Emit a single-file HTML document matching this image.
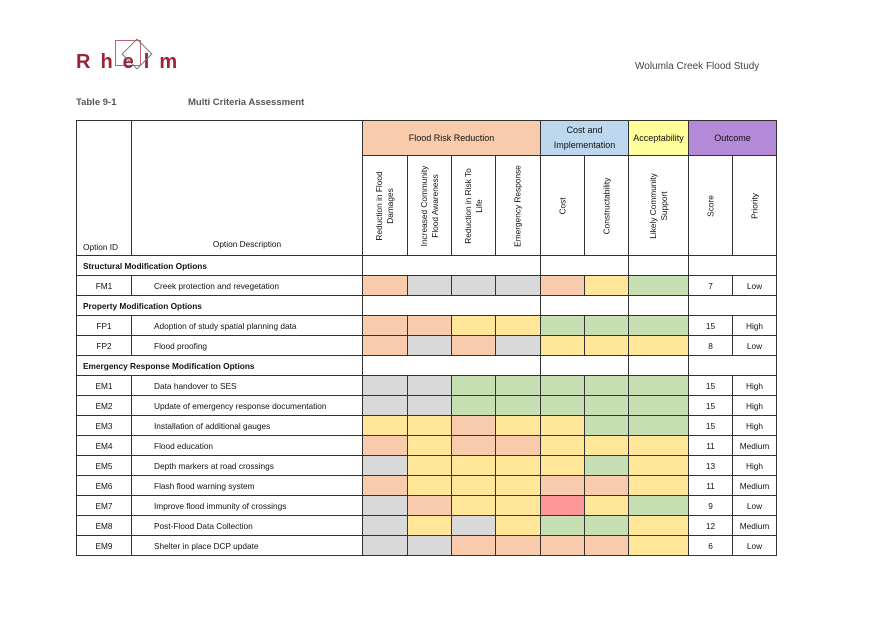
<!DOCTYPE html>
<html><head><meta charset="utf-8"><style>
body{margin:0;width:876px;height:620px;background:#fff;font-family:"Liberation Sans",sans-serif;color:#111;position:relative;overflow:hidden}
.abs{position:absolute}
table{position:absolute;left:76px;top:120px;border-collapse:collapse;table-layout:fixed;font-size:8.3px}
td{border:1px solid #333;padding:0;height:19px;text-align:center;white-space:nowrap;overflow:hidden}
.l{text-align:left;padding-left:22px}
.g{font-weight:bold;text-align:left;padding-left:6px}
.P{background:#f8cbad}.G{background:#d9d9d9}.Y{background:#ffe699}.N{background:#c6e0b4}.R{background:#ff9999}
.rot{height:99px;position:relative}
.rot div{position:absolute;left:50%;top:50%;transform:translate(-50%,-50%) rotate(-90deg);text-align:center;line-height:11px;width:86px;white-space:normal}
</style></head><body>
<div class="abs" style="left:76px;top:51px;font-size:20px;font-weight:bold;color:#9b2335;letter-spacing:10px">Rhelm</div>
<div class="abs" style="left:115px;top:40px;width:24px;height:24px;border:1px solid #9b2335;opacity:.7"></div>
<div class="abs" style="left:126px;top:43px;width:20px;height:20px;border:1px solid #777;transform:rotate(45deg)"></div>
<div class="abs" style="left:635px;top:61px;font-size:10px;color:#444">Wolumla Creek Flood Study</div>
<div class="abs" style="left:76px;top:97px;font-size:9.5px;font-weight:bold;color:#555">Table 9-1</div>
<div class="abs" style="left:188px;top:97px;font-size:9.5px;font-weight:bold;color:#555">Multi Criteria Assessment</div>
<table>
<colgroup><col style="width:55px"><col style="width:231px"><col style="width:45px"><col style="width:44px"><col style="width:44px"><col style="width:45px"><col style="width:44px"><col style="width:44px"><col style="width:60px"><col style="width:44px"><col style="width:44px"></colgroup>
<tr style="height:35px"><td rowspan="2" style="vertical-align:bottom;text-align:left;padding:0 0 3px 6px">Option ID</td><td rowspan="2" style="vertical-align:bottom;padding-bottom:6px">Option Description</td>
<td colspan="4" class="P" style="font-size:9px">Flood Risk Reduction</td><td colspan="2" style="background:#bdd7ee;font-size:9px;white-space:normal;line-height:15px">Cost and<br>Implementation</td><td style="background:#ffff99;font-size:9px">Acceptability</td><td colspan="2" style="background:#b48ad8;font-size:9px">Outcome</td></tr>
<tr><td class="rot"><div>Reduction in Flood Damages</div></td><td class="rot"><div>Increased Community Flood Awareness</div></td><td class="rot"><div>Reduction in Risk To<br>Life</div></td><td class="rot"><div>Emergency Response</div></td><td class="rot"><div>Cost</div></td><td class="rot"><div>Constructability</div></td><td class="rot"><div>Likely Community<br>Support</div></td><td class="rot"><div>Score</div></td><td class="rot"><div>Priority</div></td></tr>
<tr><td colspan="2" class="g">Structural Modification Options</td><td colspan="4"></td><td colspan="2"></td><td></td><td colspan="2"></td></tr>
<tr><td>FM1</td><td class="l">Creek protection and revegetation</td><td class="P"></td><td class="G"></td><td class="G"></td><td class="G"></td><td class="P"></td><td class="Y"></td><td class="N"></td><td>7</td><td>Low</td></tr>
<tr><td colspan="2" class="g">Property Modification Options</td><td colspan="4"></td><td colspan="2"></td><td></td><td colspan="2"></td></tr>
<tr><td>FP1</td><td class="l">Adoption of study spatial planning data</td><td class="P"></td><td class="P"></td><td class="Y"></td><td class="Y"></td><td class="N"></td><td class="N"></td><td class="N"></td><td>15</td><td>High</td></tr>
<tr><td>FP2</td><td class="l">Flood proofing</td><td class="P"></td><td class="G"></td><td class="P"></td><td class="G"></td><td class="Y"></td><td class="Y"></td><td class="Y"></td><td>8</td><td>Low</td></tr>
<tr><td colspan="2" class="g">Emergency Response Modification Options</td><td colspan="4"></td><td colspan="2"></td><td></td><td colspan="2"></td></tr>
<tr><td>EM1</td><td class="l">Data handover to SES</td><td class="G"></td><td class="G"></td><td class="N"></td><td class="N"></td><td class="N"></td><td class="N"></td><td class="N"></td><td>15</td><td>High</td></tr>
<tr><td>EM2</td><td class="l">Update of emergency response documentation</td><td class="G"></td><td class="G"></td><td class="N"></td><td class="N"></td><td class="N"></td><td class="N"></td><td class="N"></td><td>15</td><td>High</td></tr>
<tr><td>EM3</td><td class="l">Installation of additional gauges</td><td class="Y"></td><td class="Y"></td><td class="P"></td><td class="Y"></td><td class="Y"></td><td class="N"></td><td class="N"></td><td>15</td><td>High</td></tr>
<tr><td>EM4</td><td class="l">Flood education</td><td class="P"></td><td class="Y"></td><td class="P"></td><td class="P"></td><td class="Y"></td><td class="Y"></td><td class="Y"></td><td>11</td><td>Medium</td></tr>
<tr><td>EM5</td><td class="l">Depth markers at road crossings</td><td class="G"></td><td class="Y"></td><td class="Y"></td><td class="Y"></td><td class="Y"></td><td class="N"></td><td class="Y"></td><td>13</td><td>High</td></tr>
<tr><td>EM6</td><td class="l">Flash flood warning system</td><td class="P"></td><td class="Y"></td><td class="Y"></td><td class="Y"></td><td class="P"></td><td class="P"></td><td class="Y"></td><td>11</td><td>Medium</td></tr>
<tr><td>EM7</td><td class="l">Improve flood immunity of crossings</td><td class="G"></td><td class="P"></td><td class="Y"></td><td class="Y"></td><td class="R"></td><td class="Y"></td><td class="N"></td><td>9</td><td>Low</td></tr>
<tr><td>EM8</td><td class="l">Post-Flood Data Collection</td><td class="G"></td><td class="Y"></td><td class="G"></td><td class="Y"></td><td class="N"></td><td class="N"></td><td class="Y"></td><td>12</td><td>Medium</td></tr>
<tr><td>EM9</td><td class="l">Shelter in place DCP update</td><td class="G"></td><td class="G"></td><td class="P"></td><td class="P"></td><td class="P"></td><td class="P"></td><td class="Y"></td><td>6</td><td>Low</td></tr>
</table>
</body></html>
